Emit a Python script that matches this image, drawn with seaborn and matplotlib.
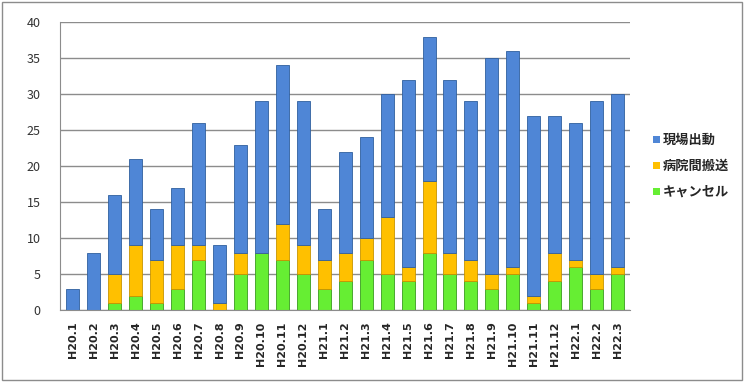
import numpy as np
import pandas as pd
import seaborn as sns
import matplotlib.pyplot as plt
from matplotlib.patches import Rectangle

sns.set_style('white')
plt.rcParams['font.family'] = ['Noto Sans CJK JP', 'DejaVu Sans']

## data
months = ['H20.1', 'H20.2', 'H20.3', 'H20.4', 'H20.5', 'H20.6', 'H20.7', 'H20.8', 'H20.9',
          'H20.10', 'H20.11', 'H20.12', 'H21.1', 'H21.2', 'H21.3', 'H21.4', 'H21.5', 'H21.6',
          'H21.7', 'H21.8', 'H21.9', 'H21.10', 'H21.11', 'H21.12', 'H22.1', 'H22.2', 'H22.3']
cancel = [0, 0, 1, 2, 1, 3, 7, 0, 5, 8, 7, 5, 3, 4, 7, 5, 4, 8, 5, 4, 3, 5, 1, 4, 6, 3, 5]
transfer = [0, 0, 4, 7, 6, 6, 2, 1, 3, 0, 5, 4, 4, 4, 3, 8, 2, 10, 3, 3, 2, 1, 1, 4, 1, 2, 1]
dispatch = [3, 8, 11, 12, 7, 8, 17, 8, 15, 21, 22, 20, 7, 14, 14, 17, 26, 20, 24, 22, 30, 30, 25, 19, 19, 24, 24]
series_names = ['現場出動', '病院間搬送', 'キャンセル']
colors = ['#4F86D6', '#FFC000', '#66EE33']

df = pd.DataFrame({'month': months, 'cancel': cancel, 'transfer': transfer, 'dispatch': dispatch})
df['b_transfer'] = df['cancel']
df['b_dispatch'] = df['cancel'] + df['transfer']

fig = plt.figure(figsize=(7.44, 3.82), dpi=100)
ax = fig.add_axes([0.081, 0.188, 0.766, 0.754])

# stacked bars, bottom layer first
sns.barplot(data=df, x='month', y='cancel', color=colors[2], width=0.62, saturation=1,
            edgecolor='#3a9a20', linewidth=0.6, ax=ax, label=series_names[2])
sns.barplot(data=df, x='month', y='transfer', bottom=df['b_transfer'], color=colors[1], width=0.62,
            saturation=1, edgecolor='#c89400', linewidth=0.6, ax=ax, label=series_names[1])
sns.barplot(data=df, x='month', y='dispatch', bottom=df['b_dispatch'], color=colors[0], width=0.62,
            saturation=1, edgecolor='#2f5f9e', linewidth=0.6, ax=ax, label=series_names[0])

ax.set_ylim(0, 40)
ax.set_xlim(-0.6, len(months) - 0.4)
ax.set_yticks(range(0, 41, 5))
ax.yaxis.grid(True, color='#8c8c8c', linewidth=1.0)
ax.set_axisbelow(True)
ax.set_xlabel('')
ax.set_ylabel('')
for s in ['top', 'right']:
    ax.spines[s].set_visible(False)
ax.spines['left'].set_color('#8c8c8c')
ax.spines['bottom'].set_color('#8c8c8c')
ax.tick_params(axis='y', length=0, labelsize=9, colors='#333333', pad=14)
ax.tick_params(axis='x', length=0, pad=8)
ax.set_xticks(range(len(months)))
ax.set_xticklabels(months, rotation=90, fontsize=8, fontweight='bold', family='DejaVu Sans')

## legend in original order
handles, labels = ax.get_legend_handles_labels()
order = [labels.index(n) for n in series_names]
leg = ax.legend([handles[i] for i in order], [labels[i] for i in order],
                loc='center left', bbox_to_anchor=(1.02, 0.5), frameon=False,
                fontsize=9.5, handlelength=0.5, handleheight=0.5, handletextpad=0.2,
                labelspacing=0.9)
for h in leg.legend_handles:
    h.set_edgecolor('none')
for t in leg.get_texts():
    t.set_fontweight('bold')

# outer border
fig.patches.append(Rectangle((0.003, 0.004), 0.994, 0.99, transform=fig.transFigure,
                             fill=False, edgecolor='#8c8c8c', linewidth=1))

plt.savefig('out.png', dpi=100)
